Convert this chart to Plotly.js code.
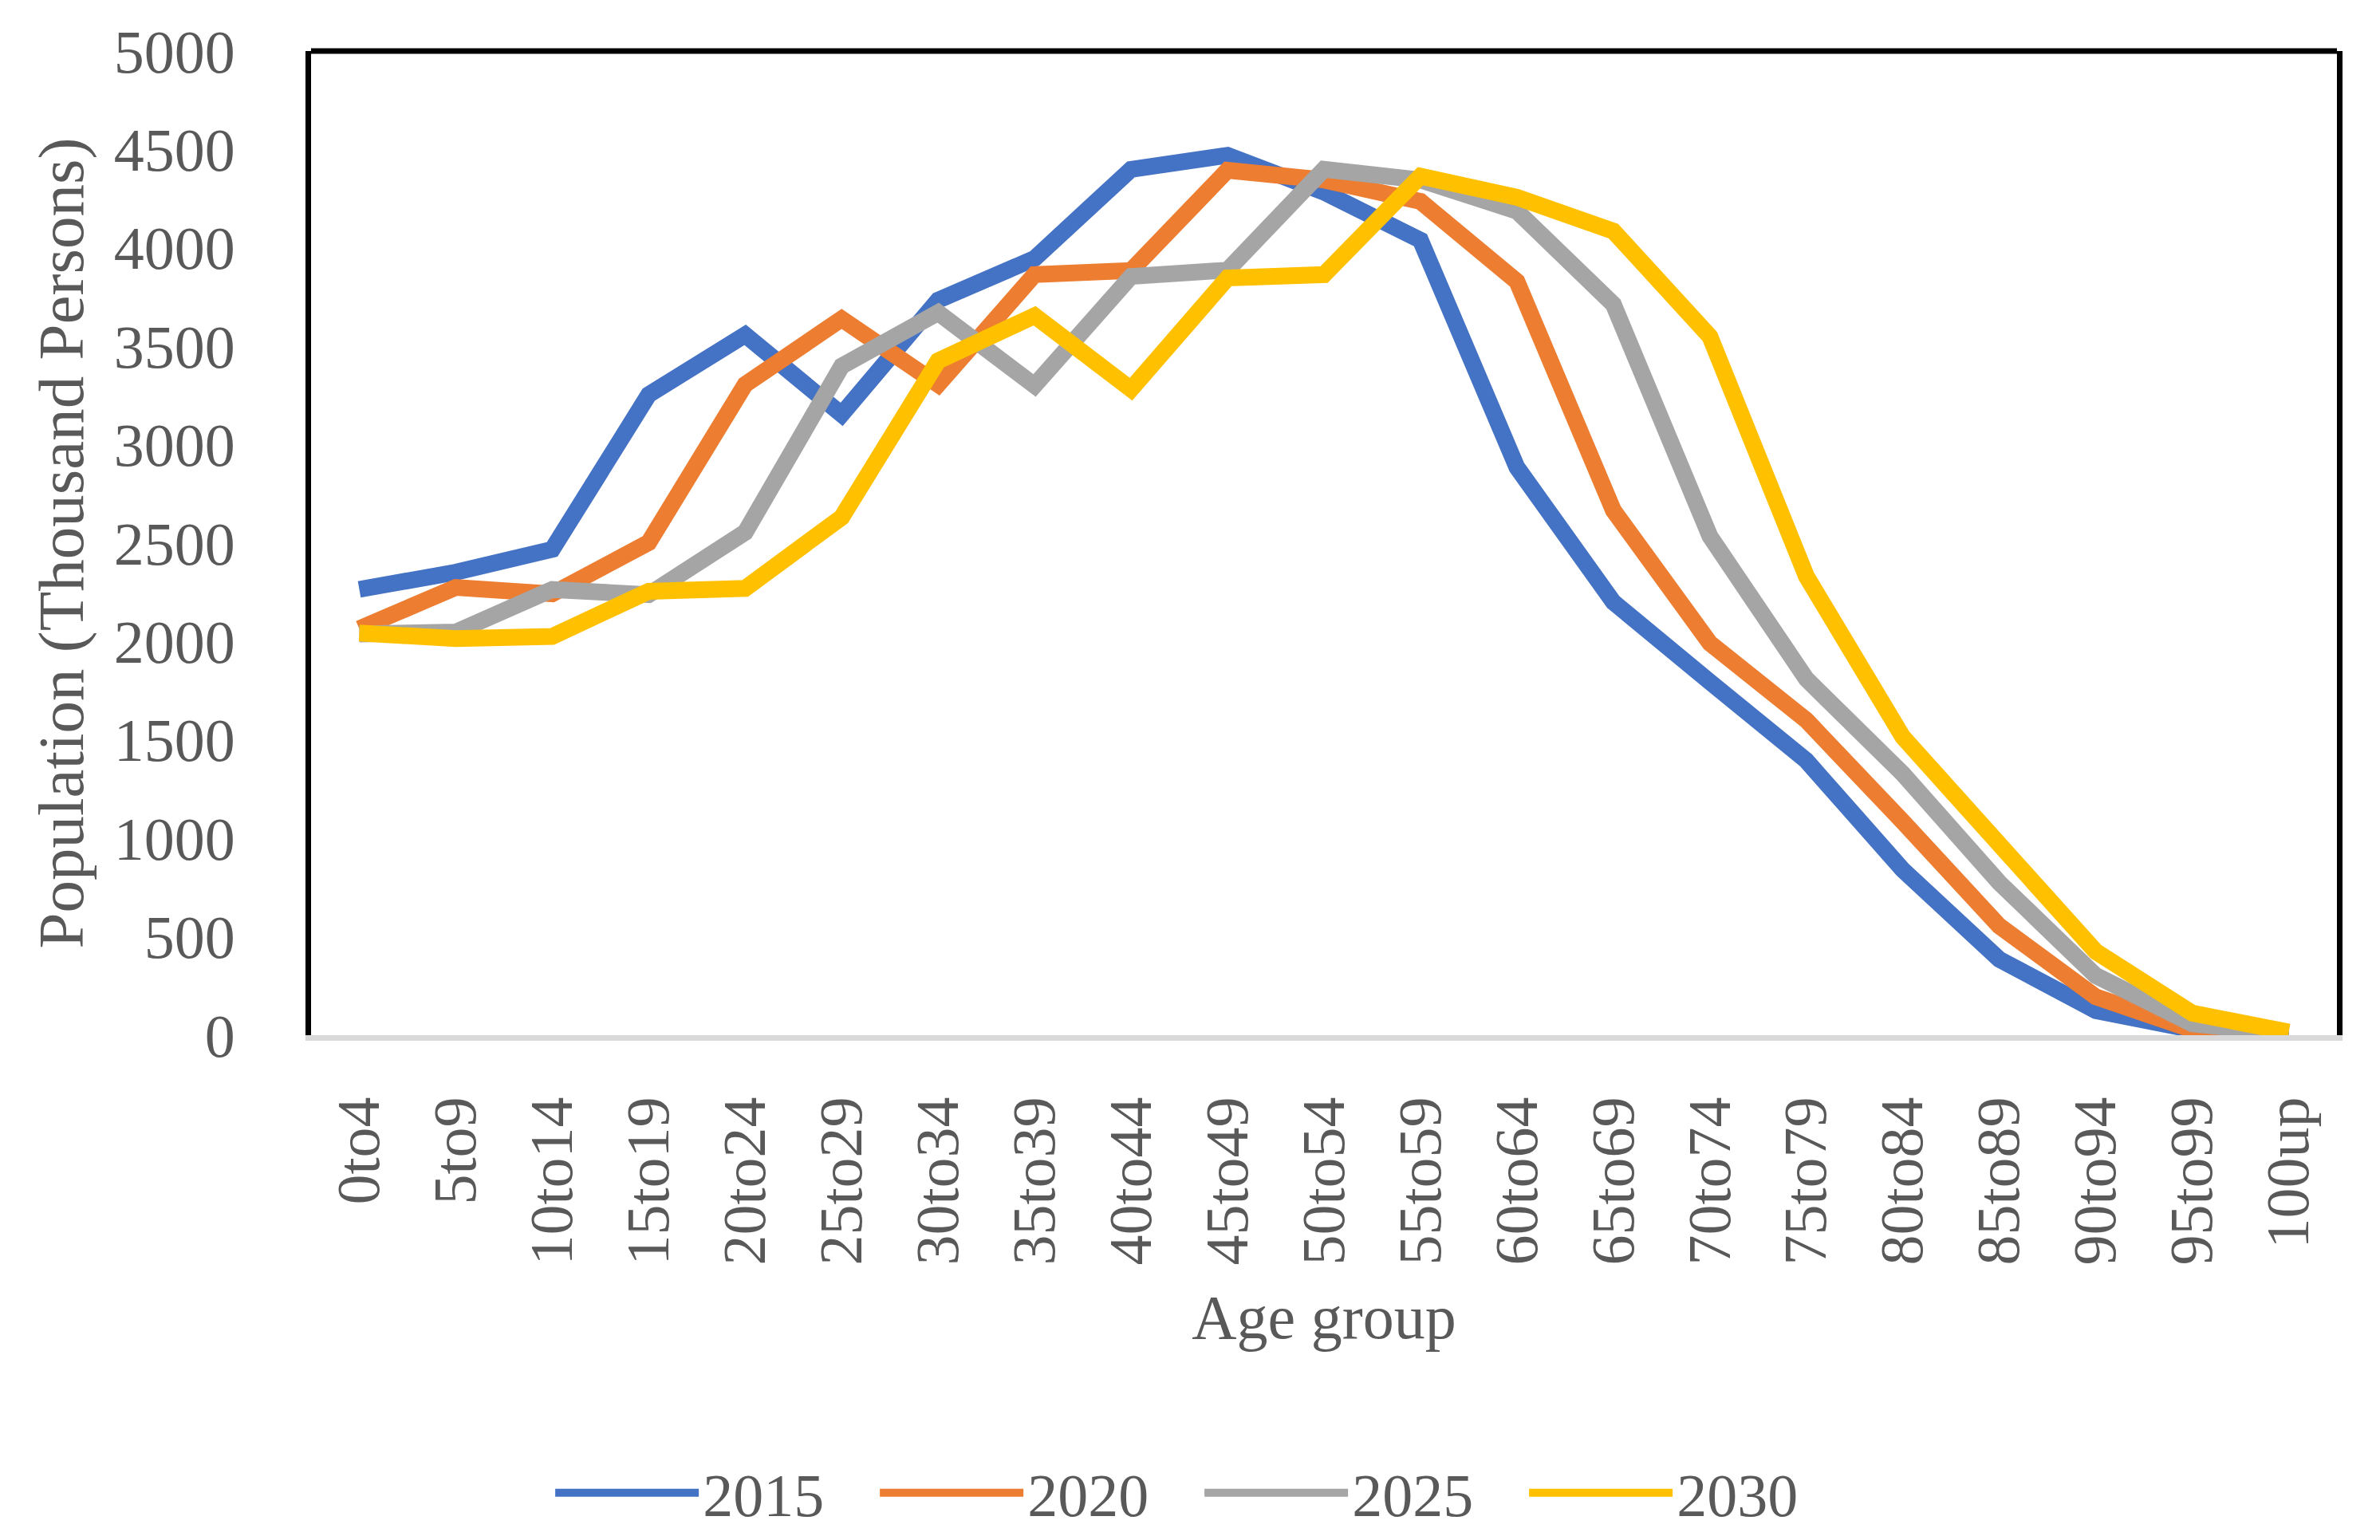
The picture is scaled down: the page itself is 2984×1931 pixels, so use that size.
<!DOCTYPE html>
<html>
<head>
<meta charset="utf-8">
<script src="https://cdn.plot.ly/plotly-3.0.1.min.js"></script>
<style>html,body{margin:0;padding:0;background:#fff;}</style>
</head>
<body>
<div id="chart" style="width:2984px;height:1931px;"></div>
<script>
const ageGroups = ["0to4","5to9","10to14","15to19","20to24","25to29","30to34","35to39","40to44","45to49","50to54","55to59","60to64","65to69","70to74","75to79","80to84","85to89","90to94","95to99","100up"];
const pop2015 = [2265,2352,2468,3254,3558,3154,3734,3946,4399,4470,4283,4039,2885,2200,1795,1395,840,385,125,28,5];
const pop2020 = [2065,2275,2242,2503,3306,3639,3306,3864,3885,4394,4345,4236,3829,2666,1992,1600,1085,555,195,28,4];
const pop2025 = [2038,2048,2264,2238,2555,3399,3671,3301,3855,3887,4399,4345,4187,3713,2535,1810,1328,775,303,58,7];
const pop2030 = [2043,2015,2026,2255,2270,2631,3426,3655,3282,3847,3864,4364,4257,4085,3550,2332,1515,960,425,112,16];
const seriesNames = ["2015","2020","2025","2030"];
const seriesColors = ["#4472C4","#ED7D31","#A5A5A5","#FFC000"];
const seriesData = [pop2015, pop2020, pop2025, pop2030];

const FONT = "Liberation Serif, Times New Roman, serif";
const GREY = "#595959";

const traces = seriesData.map((d, i) => ({
  type: "scatter",
  mode: "lines",
  name: seriesNames[i],
  x: ageGroups,
  y: d,
  line: {color: seriesColors[i], width: 21}
}));

const layout = {
  width: 2984,
  height: 1931,
  margin: {l: 390, r: 54, t: 64, b: 633},
  paper_bgcolor: "#fff",
  plot_bgcolor: "#fff",
  font: {family: FONT, color: GREY, size: 76},
  showlegend: true,
  legend: {
    orientation: "h",
    xref: "container", yref: "container",
    x: 0.5044, xanchor: "center",
    y: 0.0306, yanchor: "middle",
    font: {family: FONT, size: 76, color: GREY},
    itemwidth: 180,
    entrywidth: 212,
    entrywidthmode: "pixels",
    traceorder: "normal",
    bgcolor: "rgba(0,0,0,0)"
  },
  xaxis: {
    type: "category",
    range: [-0.5, 20.5],
    tickangle: -90,
    showgrid: false,
    zeroline: false,
    showline: true,
    linecolor: "#D9D9D9",
    linewidth: 7,
    ticks: "",
    layer: "below traces",
    ticklabelstandoff: 40,
    tickfont: {family: FONT, size: 76, color: GREY},
    title: {text: "Age group", font: {family: FONT, size: 78, color: GREY}, standoff: 40}
  },
  yaxis: {
    range: [0, 5000],
    dtick: 500,
    tick0: 0,
    showgrid: false,
    zeroline: false,
    showline: true,
    mirror: true,
    linecolor: "#000",
    linewidth: 7,
    ticks: "",
    ticklabelstandoff: 73,
    tickfont: {family: FONT, size: 76, color: GREY},
    title: {text: "Population (Thousand Persons)", font: {family: FONT, size: 81, color: GREY}, standoff: 14}
  },
  shapes: [{
    type: "line", xref: "paper", yref: "paper",
    x0: 0, x1: 1, y0: 1, y1: 1,
    line: {color: "#000", width: 7}
  }]
};

Plotly.newPlot("chart", traces, layout, {displayModeBar: false, staticPlot: true});
</script>
</body>
</html>
